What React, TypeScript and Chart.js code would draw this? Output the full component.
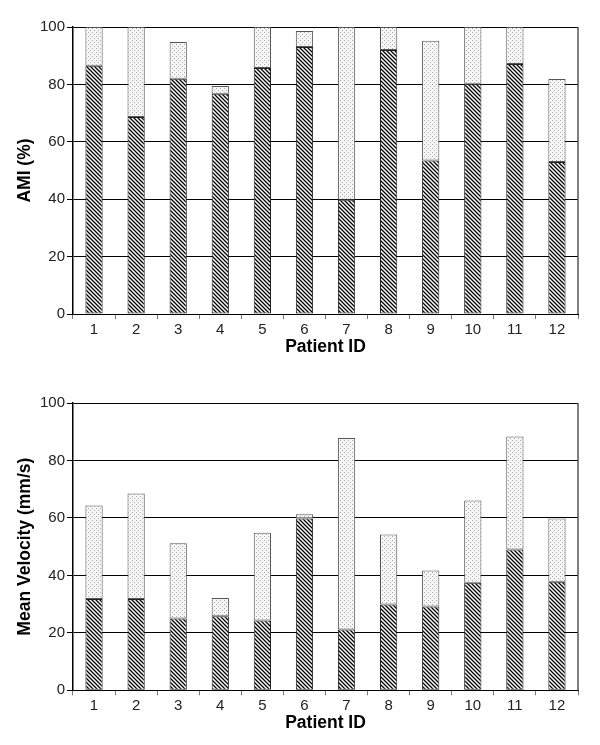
import React, { useEffect, useRef } from "react";
import { Chart, registerables } from "chart.js";

Chart.register(...registerables);

const patients = ["1", "2", "3", "4", "5", "6", "7", "8", "9", "10", "11", "12"];
const yTicks = [0, 20, 40, 60, 80, 100];

// AMI (%) chart: lower hatched segment and upper dotted segment
const amiHatched = [86.5, 68.6, 82.0, 76.7, 85.7, 93.0, 39.8, 92.0, 53.5, 80.2, 87.1, 53.0];
const amiDotted = [13.5, 31.4, 12.8, 2.7, 14.3, 5.6, 60.2, 8.0, 41.7, 19.8, 12.9, 28.9];

// Mean velocity (mm/s) chart
const velHatched = [31.8, 31.8, 25.0, 25.8, 24.3, 59.8, 21.2, 29.9, 29.2, 37.4, 49.0, 37.8];
const velDotted = [32.5, 36.7, 26.2, 6.3, 30.5, 1.5, 66.6, 24.3, 12.5, 28.7, 39.3, 22.0];

const FONT = "'Liberation Sans', Arial, sans-serif";

function hatchPattern(): CanvasPattern | string {
  const c = document.createElement("canvas");
  c.width = 4;
  c.height = 4;
  const ctx = c.getContext("2d");
  if (!ctx) return "#666";
  ctx.fillStyle = "#ffffff";
  ctx.fillRect(0, 0, 4, 4);
  ctx.strokeStyle = "#000000";
  ctx.lineWidth = 1.3;
  ctx.beginPath();
  ctx.moveTo(-1, -1);
  ctx.lineTo(5, 5);
  ctx.moveTo(-1, 3);
  ctx.lineTo(1, 5);
  ctx.moveTo(3, -1);
  ctx.lineTo(5, 1);
  ctx.stroke();
  return ctx.createPattern(c, "repeat") || "#666";
}

function dotPattern(): CanvasPattern | string {
  const c = document.createElement("canvas");
  c.width = 4;
  c.height = 4;
  const ctx = c.getContext("2d");
  if (!ctx) return "#eee";
  ctx.fillStyle = "#f6f6f6";
  ctx.fillRect(0, 0, 4, 4);
  ctx.fillStyle = "#a8a8a8";
  ctx.fillRect(0, 0, 1, 1);
  ctx.fillRect(2, 2, 1, 1);
  return ctx.createPattern(c, "repeat") || "#eee";
}

const boxPlugin = {
  id: "boxRight",
  afterDatasetsDraw(chart: any) {
    const { ctx, chartArea } = chart;
    ctx.save();
    ctx.strokeStyle = "#555";
    ctx.lineWidth = 1.5;
    ctx.beginPath();
    ctx.moveTo(chartArea.right, chartArea.top);
    ctx.lineTo(chartArea.right, chartArea.bottom);
    ctx.stroke();
    ctx.restore();
  },
};

type Props = {
  hatched: number[];
  dotted: number[];
  yTitle: string;
  height: number;
  padTop: number;
  xHeight: number;
  xTitlePadBottom: number;
};

function StackChart({ hatched, dotted, yTitle, height, padTop, xHeight, xTitlePadBottom }: Props) {
  const ref = useRef<HTMLCanvasElement | null>(null);
  useEffect(() => {
    if (!ref.current) return;
    const chart = new Chart(ref.current, {
      type: "bar",
      data: {
        labels: patients,
        datasets: [
          {
            data: hatched,
            backgroundColor: hatchPattern() as any,
            borderColor: "#222",
            borderWidth: 1,
            borderSkipped: false,
            stack: "s",
            barPercentage: 0.41,
            categoryPercentage: 1,
          },
          {
            data: dotted,
            backgroundColor: dotPattern() as any,
            borderColor: "#555",
            borderWidth: 1,
            borderSkipped: false,
            stack: "s",
            barPercentage: 0.41,
            categoryPercentage: 1,
          },
        ],
      },
      options: {
        responsive: false,
        animation: false,
        layout: { padding: { top: padTop, right: 22, left: 0, bottom: 0 } },
        plugins: { legend: { display: false }, tooltip: { enabled: false } },
        scales: {
          x: {
            stacked: true,
            afterFit: (s: any) => {
              s.height = xHeight;
            },
            grid: {
              display: true,
              offset: true,
              drawOnChartArea: false,
              drawTicks: true,
              tickLength: 5,
              color: "#777",
            },
            border: { display: true, color: "#000", width: 1 },
            ticks: { color: "#222", font: { family: FONT, size: 15 }, padding: 2 },
            title: {
              display: true,
              text: "Patient ID",
              color: "#000",
              font: { family: FONT, size: 17.5, weight: "bold" },
              padding: { top: 0, bottom: xTitlePadBottom },
            },
          },
          y: {
            stacked: true,
            min: 0,
            max: 100,
            afterFit: (s: any) => {
              s.width = 73;
            },
            afterBuildTicks: (s: any) => {
              s.ticks = yTicks.map((v) => ({ value: v }));
            },
            grid: {
              color: "#000",
              lineWidth: 1,
              drawTicks: true,
              tickLength: 6,
            },
            border: { display: true, color: "#000", width: 1.5 },
            ticks: { color: "#222", font: { family: FONT, size: 15 }, padding: 2 },
            title: {
              display: true,
              text: yTitle,
              color: "#000",
              font: { family: FONT, size: 17.5, weight: "bold" },
              padding: { top: 14.5, bottom: 0 },
            },
          },
        },
      },
      plugins: [boxPlugin],
    });
    return () => chart.destroy();
  }, []);
  return <canvas ref={ref} width={600} height={height} style={{ display: "block" }} />;
}

export default function App() {
  return (
    <div style={{ position: "absolute", left: 0, top: 0, width: 600, height: 745, background: "#fff" }}>
      <div style={{ position: "absolute", left: 0, top: 0 }}>
        <StackChart
          hatched={amiHatched}
          dotted={amiDotted}
          yTitle="AMI (%)"
          height={360}
          padTop={27}
          xHeight={46}
          xTitlePadBottom={2.5}
        />
      </div>
      <div style={{ position: "absolute", left: 0, top: 360 }}>
        <StackChart
          hatched={velHatched}
          dotted={velDotted}
          yTitle="Mean Velocity (mm/s)"
          height={385}
          padTop={43}
          xHeight={54.7}
          xTitlePadBottom={11.8}
        />
      </div>
    </div>
  );
}
